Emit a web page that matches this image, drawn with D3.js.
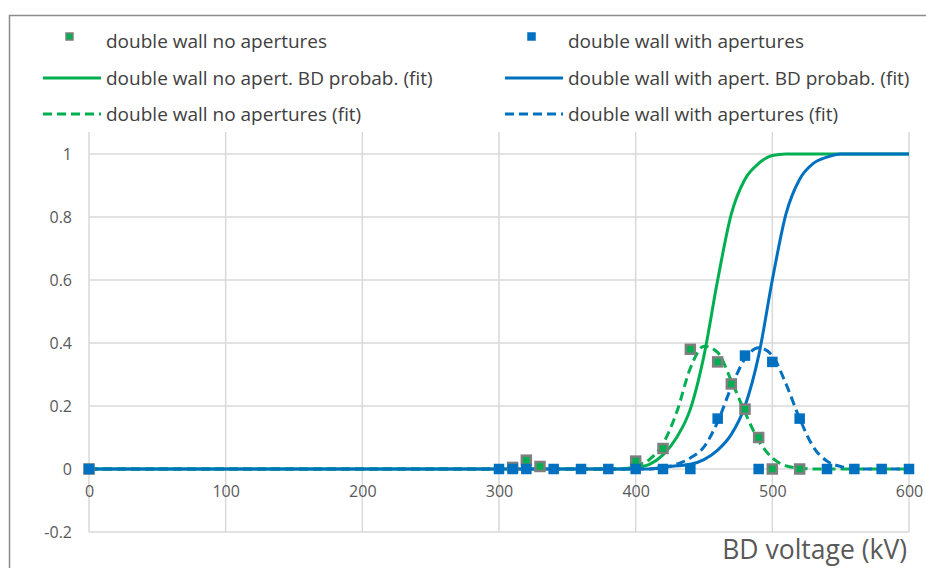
<!DOCTYPE html>
<html>
<head>
<meta charset="utf-8">
<script src="https://cdn.jsdelivr.net/npm/d3@7"></script>
<style>
  body { margin: 0; background: #fff; }
  text { font-family: "Open Sans", sans-serif; }
</style>
</head>
<body>
<div id="root"></div>
<script>
const w = 926;
const h = 568;

// measured points (kV, probability)
const noApVolt = [0, 310, 320, 330, 400, 420, 440, 460, 470, 480, 490, 500, 520];
const noApProb = [0, 0.005, 0.028, 0.008, 0.025, 0.065, 0.38, 0.34, 0.27, 0.19, 0.10, 0, 0];
const withApVolt = [0, 300, 310, 320, 340, 360, 380, 400, 420, 440, 460, 480, 490, 500, 520, 540, 560, 580, 600];
const withApProb = [0, 0, 0, 0, 0, 0, 0, 0, 0, 0, 0.16, 0.36, 0, 0.34, 0.16, 0, 0, 0, 0];

// fitted curves
const fitVolt = [0, 380, 390, 400, 410, 420, 430, 440, 450, 460, 470, 480, 490, 500, 510, 520, 530, 540, 550, 560, 570, 580, 590, 600];
const noApCdf = [0, 0, 0, 0.005, 0.015, 0.045, 0.10, 0.19, 0.36, 0.60, 0.81, 0.92, 0.97, 0.995, 1, 1, 1, 1, 1, 1, 1, 1, 1, 1];
const withApCdf = [0, 0, 0, 0, 0, 0.005, 0.01, 0.015, 0.03, 0.06, 0.11, 0.20, 0.36, 0.60, 0.81, 0.92, 0.97, 0.99, 1, 1, 1, 1, 1, 1];
const noApFit = [0, 0, 0, 0.01, 0.03, 0.08, 0.18, 0.32, 0.39, 0.37, 0.28, 0.18, 0.09, 0.035, 0.01, 0.003, 0, 0, 0, 0, 0, 0, 0, 0];
const withApFit = [0, 0, 0, 0, 0, 0.005, 0.015, 0.035, 0.07, 0.15, 0.26, 0.35, 0.385, 0.36, 0.27, 0.16, 0.07, 0.025, 0.008, 0.002, 0, 0, 0, 0];

const xTicks = [0, 100, 200, 300, 400, 500, 600];
const yTicks = [-0.2, 0, 0.2, 0.4, 0.6, 0.8, 1];

const green = "#00b050";
const blue = "#0070c0";

const legendItems = [
    {label: "double wall no apertures", color: green, kind: "marker", col: 0, row: 0},
    {label: "double wall with apertures", color: blue, kind: "marker", col: 1, row: 0},
    {label: "double wall no apert. BD probab. (fit)", color: green, kind: "line", col: 0, row: 1},
    {label: "double wall with apert. BD probab. (fit)", color: blue, kind: "line", col: 1, row: 1},
    {label: "double wall no apertures (fit)", color: green, kind: "dash", col: 0, row: 2},
    {label: "double wall with apertures (fit)", color: blue, kind: "dash", col: 1, row: 2}
];

const xScale = d3.scaleLinear().domain([0, 600]).range([89, 909]);
const yScale = d3.scaleLinear().domain([-0.2, 1]).range([532, 154]);
const plotTop = 132;

const svg = d3.select("#root")
    .append("svg")
    .attr("width", w)
    .attr("height", h);

// chart frame (cropped on the right and bottom)
svg.append("rect")
    .attr("x", 9.5).attr("y", 15.5)
    .attr("width", 1000).attr("height", 700)
    .attr("fill", "none")
    .attr("stroke", "#8c8c8c")
    .attr("stroke-width", 1.5);

// grid
svg.append("g").selectAll("line")
    .data(yTicks)
    .enter().append("line")
    .attr("x1", xScale(0)).attr("x2", xScale(600))
    .attr("y1", d => yScale(d)).attr("y2", d => yScale(d))
    .attr("stroke", "#d9d9d9").attr("stroke-width", 1.5);

svg.append("g").selectAll("line")
    .data(xTicks)
    .enter().append("line")
    .attr("x1", d => xScale(d)).attr("x2", d => xScale(d))
    .attr("y1", plotTop).attr("y2", yScale(-0.2))
    .attr("stroke", "#d9d9d9").attr("stroke-width", 1.5);

// axis labels
const yAxis = d3.axisLeft(yScale).tickValues(yTicks).tickSize(0).tickPadding(0)
    .tickFormat(d => String(+d.toFixed(1)));
const gy = svg.append("g")
    .attr("transform", "translate(72,0)")
    .call(yAxis);
gy.select(".domain").remove();
gy.selectAll("text")
    .style("font-size", "16px")
    .attr("fill", "#595959")
    .style("font-family", "'Open Sans', sans-serif");

const xAxis = d3.axisBottom(xScale).tickValues(xTicks).tickSize(0).tickPadding(0);
const gx = svg.append("g")
    .attr("transform", "translate(0," + (yScale(0) + 17) + ")")
    .call(xAxis);
gx.select(".domain").remove();
gx.selectAll("text")
    .style("font-size", "16px")
    .attr("fill", "#595959")
    .style("font-family", "'Open Sans', sans-serif");

svg.append("text")
    .attr("x", 907)
    .attr("y", 559)
    .attr("text-anchor", "end")
    .attr("fill", "#595959")
    .style("font-size", "26.5px")
    .text("BD voltage (kV)");

// fitted curves
const line = d3.line()
    .x(d => xScale(d[0]))
    .y(d => yScale(d[1]))
    .curve(d3.curveMonotoneX);

const curves = [
    {vals: noApCdf, color: green, dash: null},
    {vals: withApCdf, color: blue, dash: null},
    {vals: noApFit, color: green, dash: "9,5"},
    {vals: withApFit, color: blue, dash: "9,5"}
];

svg.append("g").selectAll("path")
    .data(curves)
    .enter().append("path")
    .attr("d", c => line(fitVolt.map((v, i) => [v, c.vals[i]])))
    .attr("fill", "none")
    .attr("stroke", c => c.color)
    .attr("stroke-width", 3)
    .attr("stroke-dasharray", c => c.dash);

// measured points
const size = 9;
svg.append("g").selectAll("rect")
    .data(noApVolt.map((v, i) => [v, noApProb[i]]))
    .enter().append("rect")
    .attr("x", d => xScale(d[0]) - size / 2)
    .attr("y", d => yScale(d[1]) - size / 2)
    .attr("width", size).attr("height", size)
    .attr("fill", green)
    .attr("stroke", "#7f7f7f")
    .attr("stroke-width", 2.5);

svg.append("g").selectAll("rect")
    .data(withApVolt.map((v, i) => [v, withApProb[i]]))
    .enter().append("rect")
    .attr("x", d => xScale(d[0]) - size / 2)
    .attr("y", d => yScale(d[1]) - size / 2)
    .attr("width", size).attr("height", size)
    .attr("fill", blue)
    .attr("stroke", blue)
    .attr("stroke-width", 1.5);

// legend
const colX = [43, 505];
const rowY = [41, 78, 114];
const legend = svg.append("g").attr("id", "legend");
legendItems.forEach(item => {
    const x0 = colX[item.col];
    const y0 = rowY[item.row];
    if (item.kind === "marker") {
        legend.append("rect")
            .attr("x", x0 + 23).attr("y", y0 - 8)
            .attr("width", 7).attr("height", 7)
            .attr("fill", item.color)
            .attr("stroke", item.color === green ? "#7f7f7f" : item.color)
            .attr("stroke-width", 1.5);
    } else {
        legend.append("line")
            .attr("x1", x0).attr("x2", x0 + 58)
            .attr("y1", y0).attr("y2", y0)
            .attr("stroke", item.color)
            .attr("stroke-width", 3)
            .attr("stroke-dasharray", item.kind === "dash" ? "9,5" : null);
    }
    legend.append("text")
        .attr("x", x0 + 63)
        .attr("y", y0)
        .attr("dy", "0.35em")
        .attr("fill", "#404040")
        .style("font-size", "19px")
        .text(item.label);
});
</script>
</body>
</html>
